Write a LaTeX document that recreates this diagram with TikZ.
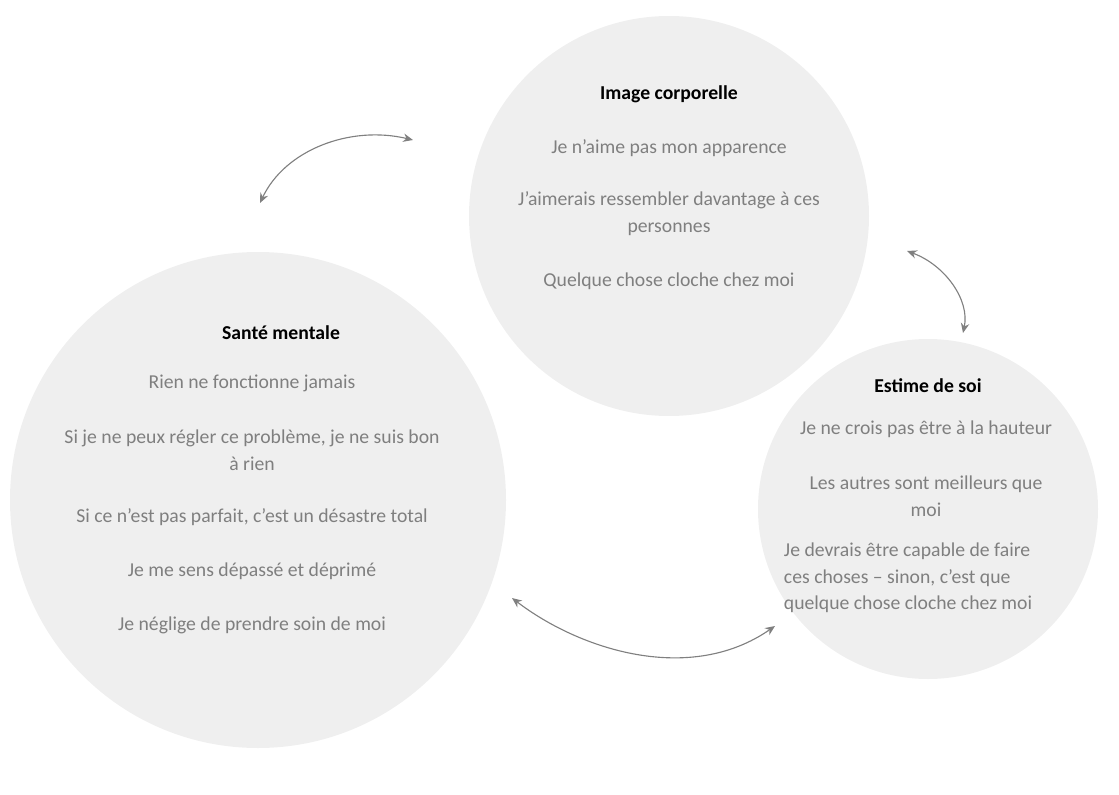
\documentclass[tikz,border=0pt]{standalone}
\usepackage{fontspec}
\setmainfont{Carlito}
\usetikzlibrary{arrows.meta}
\definecolor{bulle}{HTML}{EFEFEF}
\definecolor{texte}{HTML}{7F7F7F}
\definecolor{fleche}{HTML}{808080}
\tikzset{
  bulle/.style={circle, fill=bulle, inner sep=0pt},
  titre/.style={font=\fontsize{14}{19}\selectfont\bfseries, text=black},
  ligne/.style={font=\fontsize{14}{19}\selectfont, text=texte, align=center},
  lien/.style={{Stealth[length=7pt,width=6pt]}-{Stealth[length=7pt,width=6pt]}, draw=fleche, line width=0.8pt}
}
\begin{document}
\begin{tikzpicture}[x=0.025cm, y=-0.025cm]
	    \useasboundingbox (0,0) rectangle (1119,795);
	    % bulles
	    \node[bulle, minimum size=400*0.025cm] (image) at (669,216) {};
	    \node[bulle, minimum size=496*0.025cm] (sante) at (258,500) {};
	    \node[bulle, minimum size=340*0.025cm] (estime) at (928,509) {};
	    % image corporelle
	    \node[titre] (imageT) at (669,94) {Image corporelle};
	    \node[ligne] (image1) at (669,148) {Je n’aime pas mon apparence};
	    \node[ligne] (image2) at (669,214) {J’aimerais ressembler davantage à ces\\personnes};
	    \node[ligne] (image3) at (669,281) {Quelque chose cloche chez moi};
	    % sante mentale
	    \node[titre] (santeT) at (281,333) {Santé mentale};
	    \node[ligne] (sante1) at (252,383) {Rien ne fonctionne jamais};
	    \node[ligne] (sante2) at (252,450) {Si je ne peux régler ce problème, je ne suis bon\\à rien};
	    \node[ligne] (sante3) at (252,517) {Si ce n'est pas parfait, c’est un désastre total};
	    \node[ligne] (sante4) at (252,571) {Je me sens dépassé et déprimé};
	    \node[ligne] (sante5) at (252,625) {Je néglige de prendre soin de moi};
	    % estime de soi
	    \node[titre] (estimeT) at (928,386) {Estime de soi};
	    \node[ligne] (estime1) at (926,429) {Je ne crois pas être à la hauteur};
	    \node[ligne] (estime2) at (926,496) {Les autres sont meilleurs que\\moi};
	    \node[ligne, align=left, anchor=west] (estime3) at (779,578) {Je devrais être capable de faire\\ces choses – sinon, c’est que\\quelque chose cloche chez moi};
	    % fleches
	    \coordinate (a1) at (260,203);
	    \coordinate (a2) at (413,140);
	    \coordinate (b1) at (907,251);
	    \coordinate (b2) at (963,333);
	    \coordinate (c1) at (512,598);
	    \coordinate (c2) at (775,626);
	    \draw[lien] (a1) .. controls (285,150) and (350,125) .. (a2);
	    \draw[lien] (b1) .. controls (945,265) and (970,300) .. (b2);
	    \draw[lien] (c1) .. controls (580,650) and (690,685) .. (c2);
\end{tikzpicture}
\end{document}
